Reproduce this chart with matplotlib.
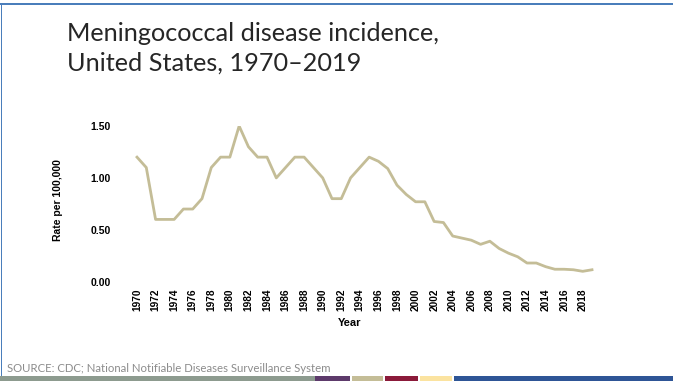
import matplotlib.pyplot as plt
from matplotlib.patches import Rectangle

# Meningococcal disease incidence, rate per 100,000
years = list(range(1970, 2020))
rates = [1.20, 1.10, 0.60, 0.60, 0.60, 0.70, 0.70, 0.80, 1.10, 1.20,
         1.20, 1.50, 1.30, 1.20, 1.20, 1.00, 1.10, 1.20, 1.20, 1.10,
         1.00, 0.80, 0.80, 1.00, 1.10, 1.20, 1.16, 1.09, 0.93, 0.84,
         0.77, 0.77, 0.58, 0.57, 0.44, 0.42, 0.40, 0.36, 0.39, 0.32,
         0.275, 0.24, 0.18, 0.18, 0.145, 0.12, 0.12, 0.115, 0.10, 0.115]
xticks = list(range(1970, 2019, 2))
yticks = [0.0, 0.5, 1.0, 1.5]

# footer colour strip: (start px, end px, colour)
strip = [(0, 315, '#8d9b8f'), (315, 350, '#5d3a6b'), (352, 383, '#c4bd97'),
         (385, 418, '#8b1a3a'), (420, 452, '#fbe3a0'), (454, 673, '#2e5596')]

W, H = 673, 381
fig = plt.figure(figsize=(W / 100, H / 100), dpi=100)

# axes placed in pixels: 1970 -> x=137, 2019 -> x=592, 0 -> y=281.7, 1.5 -> y=126
ppy = (592 - 137) / 49
left = 137 - ppy
ax = fig.add_axes([left / W, (H - 281.7) / H, 51 * ppy / W, 155.7 / H])
ax.plot(years, rates, color='#c4bd97', linewidth=2.0, solid_joinstyle='round')
ax.set_xlim(1969, 2020)
ax.set_ylim(0, 1.5)
ax.set_xticks(xticks)
ax.set_xticklabels([str(y) for y in xticks], rotation=90,
                   fontsize=7.3, fontweight='bold', family='Liberation Sans')
ax.set_yticks(yticks)
ax.set_yticklabels(['%.2f' % v for v in yticks],
                   fontsize=7.5, fontweight='bold', family='Liberation Sans')
ax.tick_params(axis='both', length=0)
ax.tick_params(axis='y', pad=12)
ax.tick_params(axis='x', pad=5)
for s in ax.spines.values():
    s.set_visible(False)

fig.text(350 / W, 1 - 323 / H, 'Year', ha='center', va='center',
         fontsize=8, fontweight='bold', family='Liberation Sans')
fig.text(58 / W, 1 - 200 / H, 'Rate per 100,000', ha='center', va='center',
         rotation=90, fontsize=7.5, fontweight='bold', family='Liberation Sans')

fig.text(67 / W, 1 - 22 / H, 'Meningococcal disease incidence,\nUnited States, 1970\u20132019',
         ha='left', va='top', fontsize=18.2, family='Lato', color='#262626',
         linespacing=1.32)
fig.text(7 / W, 1 - 368 / H, 'SOURCE: CDC; National Notifiable Diseases Surveillance System',
         ha='left', va='center', fontsize=8.2, family='Lato', color='#8c8c8c')

# frame lines and footer strip
fig.add_artist(Rectangle((0, 1 - 5 / H), 1, 2 / H, transform=fig.transFigure,
                         color='#4a7ebb', lw=0))
fig.add_artist(Rectangle((0.5 / W, 5 / H), 1.5 / W, 1 - 10 / H, transform=fig.transFigure,
                         color='#4a7ebb', lw=0))
for x0, x1, c in strip:
    fig.add_artist(Rectangle((x0 / W, 0), (x1 - x0) / W, 5 / H,
                             transform=fig.transFigure, color=c, lw=0))

fig.savefig('out.png', dpi=100)
